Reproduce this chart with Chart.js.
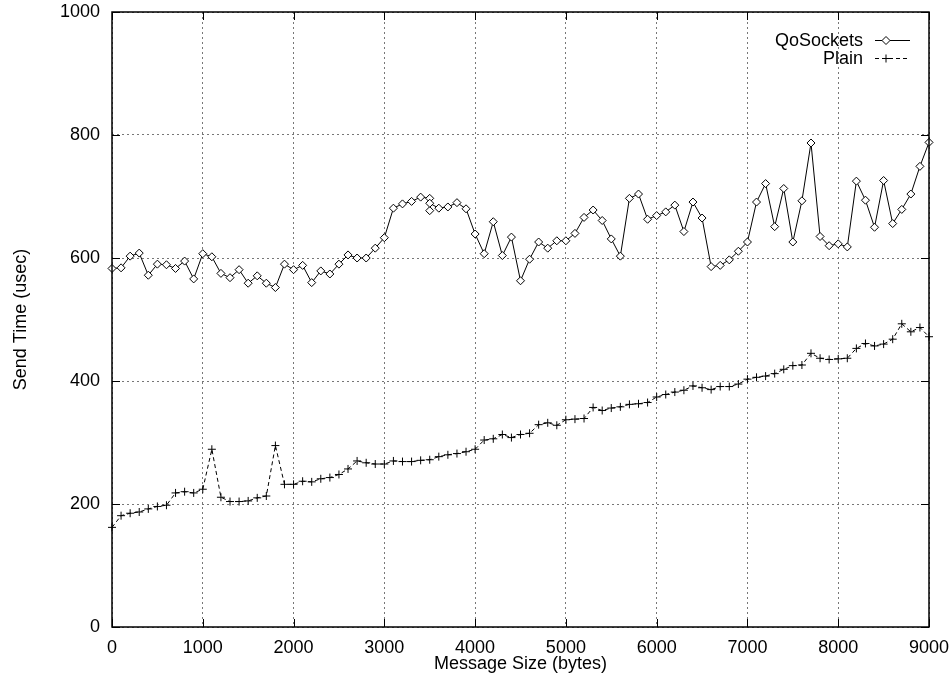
<!DOCTYPE html>
<html>
<head>
<meta charset="utf-8">
<script src="https://cdn.jsdelivr.net/npm/chart.js@4"></script>
<style>
  html, body { margin: 0; padding: 0; background: #fff; }
  #wrap { width: 951px; height: 676px; }
</style>
</head>
<body>
<div id="wrap"><canvas id="chart" width="951" height="676"></canvas></div>
<script>
// Message sizes (bytes)
const sizes = [
  0, 100, 200, 300, 400, 500, 600, 700, 800, 900,
  1000, 1100, 1200, 1300, 1400, 1500, 1600, 1700, 1800, 1900,
  2000, 2100, 2200, 2300, 2400, 2500, 2600, 2700, 2800, 2900,
  3000, 3100, 3200, 3300, 3400, 3500, 3600, 3700, 3800, 3900,
  4000, 4100, 4200, 4300, 4400, 4500, 4600, 4700, 4800, 4900,
  5000, 5100, 5200, 5300, 5400, 5500, 5600, 5700, 5800, 5900,
  6000, 6100, 6200, 6300, 6400, 6500, 6600, 6700, 6800, 6900,
  7000, 7100, 7200, 7300, 7400, 7500, 7600, 7700, 7800, 7900,
  8000, 8100, 8200, 8300, 8400, 8500, 8600, 8700, 8800, 8900,
  9000
];

// Send time (usec) with QoSockets
const qosTime = [
  583, 584, 603, 608, 572, 590, 589, 583, 595, 566,
  607, 602, 575, 568, 581, 559, 571, 559, 552, 590,
  581, 588, 560, 579, 574, 590, 605, 600, 600, 616,
  633, 681, 688, 692, 699, 697, 681, 683, 690, 680,
  639, 607, 659, 604, 634, 563, 598, 626, 616, 628,
  628, 640, 666, 678, 661, 631, 603, 697, 704, 663,
  669, 675, 686, 643, 691, 665, 586, 588, 597, 611,
  626, 691, 721, 651, 713, 626, 693, 787, 635, 620,
  623, 618, 725, 694, 650, 726, 656, 679, 704, 749,
  788
];
// repeated measurements at 3500 bytes
const qosRepeatSize = 3500;
const qosRepeatTime = [677, 689];

// Send time (usec) over plain sockets
const plainTime = [
  162, 181, 185, 187, 192, 196, 198, 218, 220, 218,
  224, 289, 211, 204, 204, 205, 210, 213, 295, 232,
  232, 237, 236, 241, 243, 248, 257, 270, 267, 265,
  265, 270, 269, 269, 271, 272, 277, 280, 282, 285,
  289, 304, 306, 313, 308, 313, 315, 329, 332, 328,
  337, 338, 339, 357, 352, 356, 358, 362, 363, 365,
  374, 378, 382, 385, 392, 389, 386, 391, 391, 395,
  403, 406, 408, 412, 419, 425, 426, 445, 437, 435,
  436, 437, 453, 461, 457, 460, 468, 493, 480, 487,
  472
];

const xTicks = [0, 1000, 2000, 3000, 4000, 5000, 6000, 7000, 8000, 9000];
const yTicks = [0, 200, 400, 600, 800, 1000];

const FONT = "'Liberation Sans', Arial, Helvetica, sans-serif";

// build point lists
const qosPoints = [];
sizes.forEach((s, i) => {
  qosPoints.push({ x: s, y: qosTime[i] });
  if (s === qosRepeatSize) {
    qosRepeatTime.forEach(v => qosPoints.push({ x: s, y: v }));
  }
});
const plainPoints = sizes.map((s, i) => ({ x: s, y: plainTime[i] }));

// gnuplot-like frame: solid border + inward tick marks on all sides
const framePlugin = {
  id: "frame",
  afterDraw(chart) {
    const { ctx, chartArea: a, scales } = chart;
    const tl = 8;
    ctx.save();
    ctx.strokeStyle = "#000";
    ctx.lineWidth = 1;
    ctx.setLineDash([]);
    ctx.beginPath();
    xTicks.forEach(v => {
      const px = Math.round(scales.x.getPixelForValue(v)) + 0.5;
      ctx.moveTo(px, a.bottom); ctx.lineTo(px, a.bottom - tl);
      ctx.moveTo(px, a.top); ctx.lineTo(px, a.top + tl);
    });
    yTicks.forEach(v => {
      const py = Math.round(scales.y.getPixelForValue(v)) + 0.5;
      ctx.moveTo(a.left, py); ctx.lineTo(a.left + tl, py);
      ctx.moveTo(a.right, py); ctx.lineTo(a.right - tl, py);
    });
    ctx.stroke();
    ctx.lineWidth = 1.5;
    ctx.strokeRect(a.left, a.top, a.right - a.left, a.bottom - a.top);
    ctx.restore();
  }
};

// gnuplot-style key: text on the left, sample on the right
const keyPlugin = {
  id: "key",
  afterDraw(chart) {
    const { ctx } = chart;
    ctx.save();
    ctx.textAlign = "right";
    ctx.textBaseline = "middle";
    chart.data.datasets.forEach((ds, i) => {
      const y = 40 + i * 18;
      ctx.font = "18px " + FONT;
      ctx.fillStyle = "#000";
      ctx.fillText(ds.label, 863, y + 1);
      ctx.strokeStyle = "#000";
      ctx.lineWidth = 1;
      ctx.setLineDash(ds.borderDash || []);
      ctx.beginPath();
      ctx.moveTo(875, y + 0.5);
      ctx.lineTo(910, y + 0.5);
      ctx.stroke();
      ctx.setLineDash([]);
      ctx.fillStyle = "#fff";
      Chart.helpers.drawPoint(ctx, {
        pointStyle: ds.pointStyle,
        radius: ds.pointRadius,
        borderWidth: 1
      }, 886, y + 0.5);
    });
    ctx.restore();
  }
};

const ctx = document.getElementById("chart").getContext("2d");
new Chart(ctx, {
  type: "line",
  data: {
    datasets: [
      {
        label: "QoSockets",
        data: qosPoints,
        borderColor: "#000",
        borderWidth: 1,
        pointStyle: "rectRot",
        pointRadius: 4,
        pointBackgroundColor: "#fff",
        pointBorderColor: "#000",
        pointBorderWidth: 1,
        fill: false,
        tension: 0,
        clip: false
      },
      {
        label: "Plain",
        data: plainPoints,
        borderColor: "#000",
        borderWidth: 1,
        borderDash: [4, 3],
        pointStyle: "cross",
        pointRadius: 4,
        pointBorderColor: "#000",
        pointBorderWidth: 1,
        fill: false,
        tension: 0,
        clip: false
      }
    ]
  },
  options: {
    responsive: false,
    animation: false,
    events: [],
    layout: { padding: { left: 0, right: 22, top: 12, bottom: 0 } },
    plugins: {
      legend: { display: false },
      tooltip: { enabled: false },
      title: { display: false }
    },
    scales: {
      x: {
        type: "linear",
        min: 0,
        max: 9000,
        afterBuildTicks: (scale) => { scale.ticks = xTicks.map(v => ({ value: v })); },
        afterFit: (scale) => {
          scale.height = 49;
          scale.paddingLeft = 0;
          scale.paddingRight = 0;
        },
        grid: { color: "#777", lineWidth: 1, drawTicks: false },
        border: { display: false, dash: [2, 3] },
        ticks: {
          color: "#000",
          padding: 10,
          maxRotation: 0,
          font: { family: FONT, size: 18 },
          callback: (v) => String(v)
        },
        title: {
          display: true,
          text: "Message Size (bytes)",
          color: "#000",
          padding: { top: 0, bottom: 1 },
          font: { family: FONT, size: 18 }
        }
      },
      y: {
        type: "linear",
        min: 0,
        max: 1000,
        afterBuildTicks: (scale) => { scale.ticks = yTicks.map(v => ({ value: v })); },
        afterFit: (scale) => {
          scale.width = 112;
          scale.paddingTop = 0;
          scale.paddingBottom = 0;
        },
        grid: { color: "#777", lineWidth: 1, drawTicks: false },
        border: { display: false, dash: [2, 3] },
        ticks: {
          color: "#000",
          padding: 12,
          font: { family: FONT, size: 18 },
          callback: (v) => String(v)
        },
        title: {
          display: true,
          text: "Send Time (usec)",
          color: "#000",
          padding: { top: 10, bottom: 0 },
          font: { family: FONT, size: 18 }
        }
      }
    }
  },
  plugins: [framePlugin, keyPlugin]
});
</script>
</body>
</html>
